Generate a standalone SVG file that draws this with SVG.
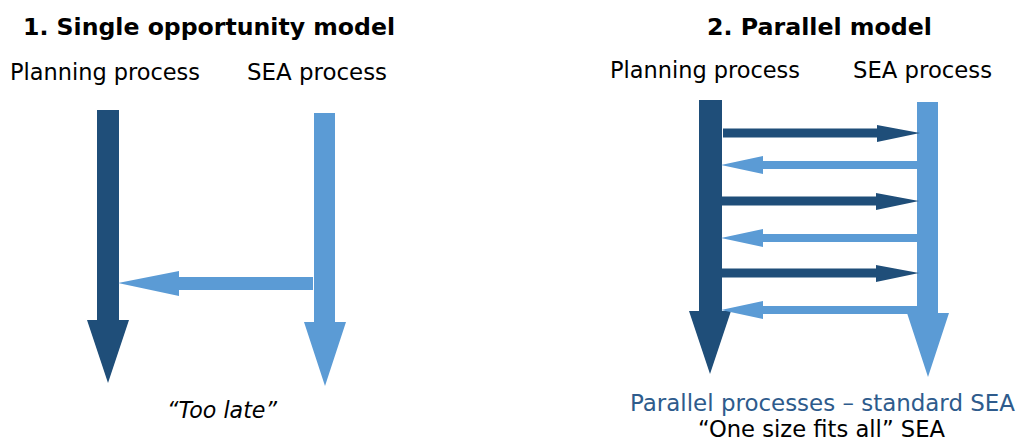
<svg xmlns="http://www.w3.org/2000/svg" width="1018" height="441" viewBox="0 0 1018 441">
<style>
.t{font-family:"DejaVu Sans",Verdana,sans-serif;font-size:22.6px;fill:#000}
.h{font-weight:bold;font-size:23.5px}
.dk{fill:#1F4E79}
.lt{fill:#5B9BD5}
.bl{fill:#2E5B8C}
</style>
<rect width="1018" height="441" fill="#fff"/>
<g id="panel1">
<text class="t h" x="23" y="35" textLength="372" lengthAdjust="spacingAndGlyphs">1. Single opportunity model</text>
<g id="planning1">
<text class="t" x="10" y="80" textLength="190" lengthAdjust="spacingAndGlyphs">Planning process</text>
<polygon class="dk" points="97,110 119,110 119,320 129,320 108,383 87,320 97,320"/>
</g>
<g id="sea1">
<text class="t" x="247" y="80" textLength="140" lengthAdjust="spacingAndGlyphs">SEA process</text>
<polygon class="lt" points="314,113 335,113 335,322 346,322 325,386 304,322 314,322"/>
</g>
<g id="connectors1">
<polygon class="lt" points="313,277 179,277 179,271 118,283 179,296 179,290 313,290"/>
</g>
<text class="t" x="167" y="418" font-style="italic" textLength="110" lengthAdjust="spacingAndGlyphs">“Too late”</text>
</g>
<g id="panel2">
<text class="t h" x="707" y="35" textLength="225" lengthAdjust="spacingAndGlyphs">2. Parallel model</text>
<g id="planning2">
<text class="t" x="610" y="78" textLength="190" lengthAdjust="spacingAndGlyphs">Planning process</text>
<polygon class="dk" points="699,100 722,100 722,311 731,311 710,374 689,311 699,311"/>
</g>
<g id="sea2">
<text class="t" x="853" y="78" textLength="139" lengthAdjust="spacingAndGlyphs">SEA process</text>
<polygon class="lt" points="917,102 938,102 938,313 949,313 928,377 907,313 917,313"/>
</g>
<g id="connectors2">
<polygon class="dk" points="723,128.5 877,128.5 877,125 920,133 877,142 877,137.5 723,137.5"/>
<polygon class="lt" points="917,161 763,161 763,156 721,165 763,174 763,169 917,169"/>
<polygon class="dk" points="722,196.5 876,196.5 876,193 919,201 876,210 876,205.5 722,205.5"/>
<polygon class="lt" points="917,234 763,234 763,229 721,238 763,247 763,242 917,242"/>
<polygon class="dk" points="722,268.5 876,268.5 876,265 919,273 876,282 876,277.5 722,277.5"/>
<polygon class="lt" points="917,306 763,306 763,301 721,310 763,319 763,314 917,314"/>
</g>
<text class="t bl" x="630" y="411" textLength="385" lengthAdjust="spacingAndGlyphs">Parallel processes – standard SEA</text>
<text class="t" x="698" y="437" textLength="247" lengthAdjust="spacingAndGlyphs">“One size fits all” SEA</text>
</g>
</svg>
